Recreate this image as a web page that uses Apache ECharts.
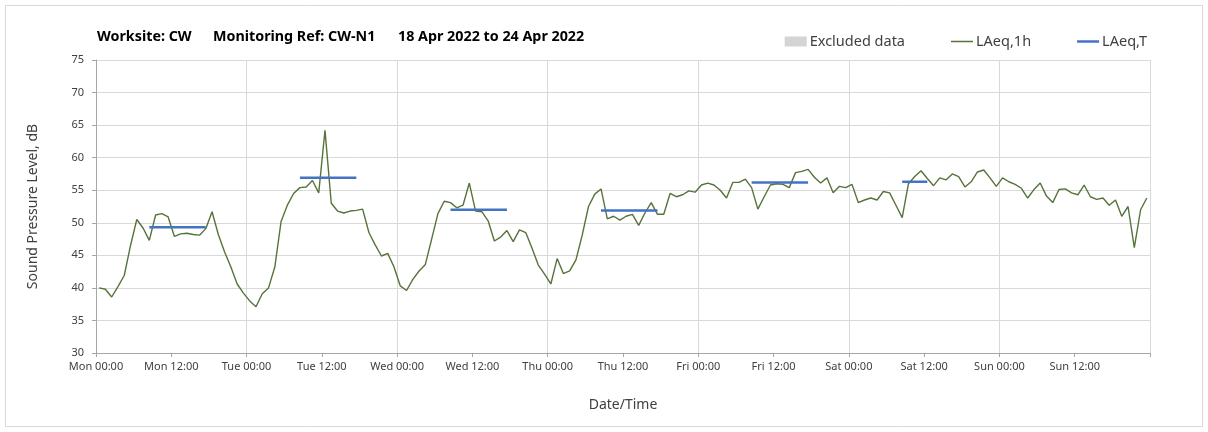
<!DOCTYPE html>
<html>
<head>
<meta charset="utf-8">
<script src="https://cdn.jsdelivr.net/npm/echarts@6/dist/echarts.min.js"></script>
<style>html,body{margin:0;padding:0;background:#fff}#c{width:1208px;height:432px}</style>
</head>
<body>
<div id="c"></div>
<script>
// Day names for x tick labels
const dayNames = ['Mon', 'Tue', 'Wed', 'Thu', 'Fri', 'Sat', 'Sun'];
const timeLabels = ['00:00', '12:00'];
// Hourly LAeq,1h values, Mon 00:00 .. Sun 23:00 (168 hours)
const laeq1h = [
  40.0, 39.8, 38.6, 40.2, 41.9, 46.5, 50.5, 49.2, 47.3, 51.2,
  51.4, 50.9, 47.9, 48.3, 48.4, 48.2, 48.1, 49.1, 51.7, 48.2,
  45.5, 43.2, 40.6, 39.2, 38.0, 37.1, 39.1, 40.0, 43.2, 50.2,
  52.7, 54.5, 55.4, 55.5, 56.5, 54.6, 64.2, 53.0, 51.8, 51.5,
  51.8, 51.9, 52.1, 48.5, 46.6, 44.9, 45.3, 43.2, 40.3, 39.6,
  41.3, 42.6, 43.6, 47.5, 51.4, 53.3, 53.1, 52.3, 52.7, 56.1,
  51.8, 51.7, 50.3, 47.2, 47.8, 48.8, 47.1, 48.9, 48.5, 46.1,
  43.5, 42.1, 40.6, 44.5, 42.2, 42.6, 44.3, 48.1, 52.5, 54.4,
  55.2, 50.6, 51.0, 50.4, 51.0, 51.3, 49.6, 51.5, 53.1, 51.3,
  51.3, 54.5, 54.0, 54.3, 54.9, 54.7, 55.8, 56.1, 55.8, 55.0,
  53.8, 56.2, 56.2, 56.7, 55.4, 52.1, 54.0, 55.8, 56.0, 55.9,
  55.4, 57.7, 57.9, 58.2, 57.0, 56.1, 56.9, 54.6, 55.6, 55.4,
  55.9, 53.1, 53.5, 53.8, 53.5, 54.8, 54.6, 52.7, 50.8, 56.0,
  57.1, 58.0, 56.8, 55.7, 56.9, 56.6, 57.5, 57.1, 55.5, 56.3,
  57.8, 58.1, 56.9, 55.6, 56.9, 56.3, 55.9, 55.3, 53.8, 55.1,
  56.1, 54.1, 53.1, 55.1, 55.2, 54.6, 54.3, 55.8, 54.0, 53.6,
  53.8, 52.7, 53.5, 51.0, 52.5, 46.2, 52.0, 53.8
];
// LAeq,T periods: first and last hour-of-week index, and level
const periodStartHour = [8, 32, 56, 80, 104, 128];
const periodEndHour = [17, 41, 65, 89, 113, 132];
const laeqT = [49.3, 56.9, 52.0, 51.9, 56.2, 56.3];

const FONT = 'Noto Sans';
const lineData = laeq1h.map((v, i) => [i + 0.5, v]);
const periodSeries = laeqT.map((v, k) => ({
  name: 'LAeq,T', type: 'line', symbol: 'none', xAxisIndex: 1,
  lineStyle: { color: '#4472c4', width: 2.5 }, itemStyle: { color: '#4472c4' },
  data: [[periodStartHour[k] + 0.5, v], [periodEndHour[k] + 0.5, v]], z: 4
}));

const titleStyle = { fontFamily: FONT, fontSize: 14.3, fontWeight: 'bold', color: '#000' };
const chart = echarts.init(document.getElementById('c'), null, { renderer: 'canvas' });
chart.setOption({
  animation: false,
  backgroundColor: '#fff',
  graphic: [{ type: 'rect', shape: { x: 5.5, y: 5.5, width: 1197, height: 421 },
    style: { fill: 'none', stroke: '#d9d9d9', lineWidth: 1 }, silent: true }],
  title: [
    { text: 'Worksite: CW', left: 92, top: 25, textStyle: titleStyle },
    { text: 'Monitoring Ref: CW-N1', left: 208, top: 25, textStyle: titleStyle },
    { text: '18 Apr 2022 to 24 Apr 2022', left: 393, top: 25, textStyle: titleStyle }
  ],
  legend: {
    right: 56, top: 29, itemWidth: 22, itemHeight: 10, itemGap: 46,
    textStyle: { fontFamily: FONT, fontSize: 14.5, color: '#404040', padding: [0, 0, 0, -2] },
    data: [
      { name: 'Excluded data', icon: 'rect' },
      { name: 'LAeq,1h', icon: 'path://M0,0 M0,4.25 L22,4.25 L22,5.75 L0,5.75 Z M22,10', itemStyle: { borderWidth: 0 } },
      { name: 'LAeq,T', icon: 'path://M0,0 M0,3.75 L22,3.75 L22,6.25 L0,6.25 Z M22,10', itemStyle: { borderWidth: 0 } }
    ]
  },
  grid: { left: 96, right: 58, top: 60, bottom: 79 },
  xAxis: [
    { type: 'value', min: 0, max: 168, interval: 24, position: 'bottom',
      axisLine: { show: false }, axisTick: { show: false }, axisLabel: { show: false },
      splitLine: { show: true, lineStyle: { color: '#d9d9d9', width: 1 } } },
    { type: 'value', min: 0, max: 168, interval: 12, position: 'bottom',
      name: 'Date/Time', nameLocation: 'middle', nameGap: 45,
      nameTextStyle: { fontFamily: FONT, fontSize: 14, color: '#404040' },
      axisLine: { show: true, lineStyle: { color: '#a6a6a6', width: 1 } },
      axisTick: { show: true, length: 4, lineStyle: { color: '#a6a6a6' } },
      splitLine: { show: false },
      axisLabel: { fontFamily: FONT, fontSize: 11, color: '#404040', margin: 8,
        formatter: v => v >= 168 ? '' : dayNames[Math.floor(v / 24)] + ' ' + timeLabels[(v % 24) / 12] } }
  ],
  yAxis: {
    type: 'value', min: 30, max: 75, interval: 5,
    name: 'Sound Pressure Level, dB', nameLocation: 'middle', nameGap: 56,
    nameTextStyle: { fontFamily: FONT, fontSize: 14, color: '#404040' },
    axisLine: { show: true, lineStyle: { color: '#a6a6a6', width: 1 } },
    axisTick: { show: true, length: 4, lineStyle: { color: '#a6a6a6' } },
    splitLine: { show: true, lineStyle: { color: '#d9d9d9', width: 1 } },
    axisLabel: { fontFamily: FONT, fontSize: 11, color: '#404040', margin: 12 }
  },
  series: [
    { name: 'Excluded data', type: 'bar', data: [], itemStyle: { color: '#d4d4d4' } },
    { name: 'LAeq,1h', type: 'line', symbol: 'none', xAxisIndex: 1, data: lineData,
      lineStyle: { color: '#56733a', width: 1.4 }, itemStyle: { color: '#56733a' }, z: 3 }
  ].concat(periodSeries)
});
</script>
</body>
</html>
